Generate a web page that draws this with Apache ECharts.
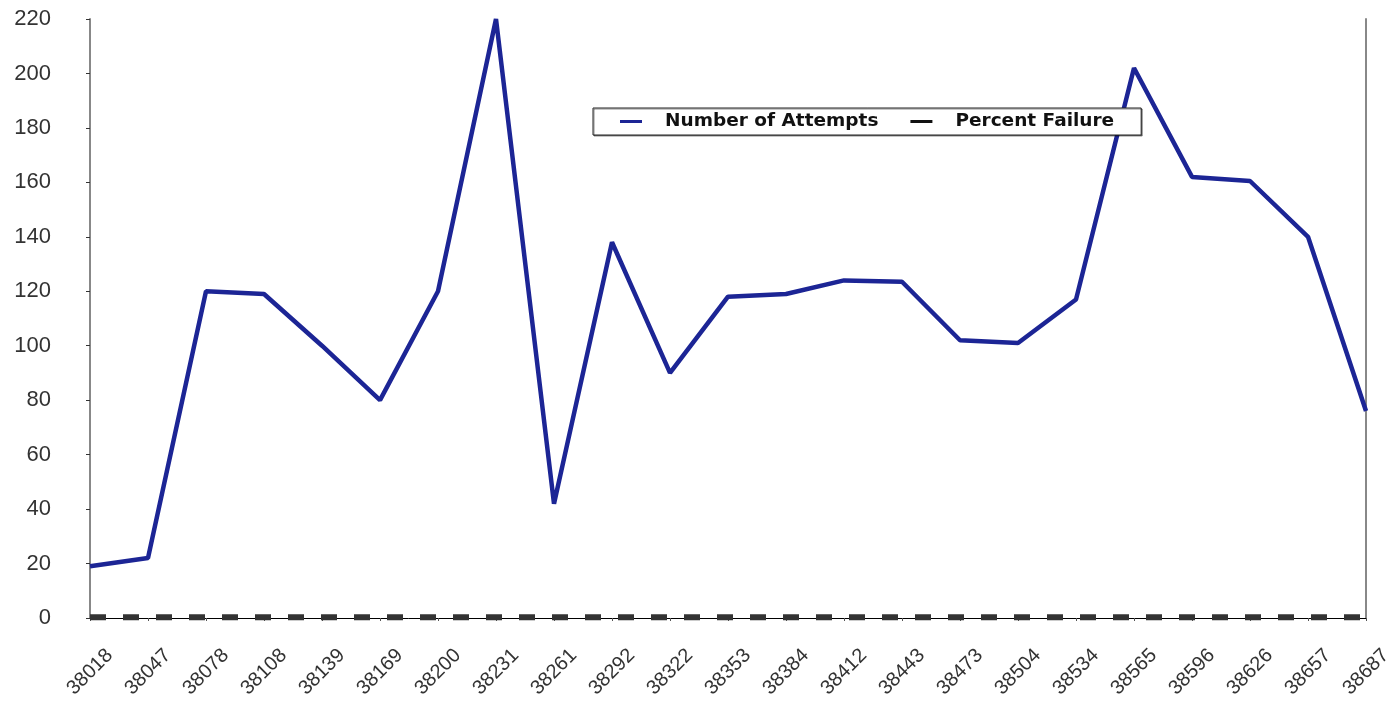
<!DOCTYPE html>
<html><head><meta charset="utf-8">
<script src="https://cdn.jsdelivr.net/npm/echarts@6/dist/echarts.min.js"></script>
<style>html,body{margin:0;padding:0;background:#fff}#c{width:1388px;height:702px}</style>
</head><body><div id="c"></div>
<script>
const categories = ['38018','38047','38078','38108','38139','38169','38200','38231','38261','38292','38322','38353','38384','38412','38443','38473','38504','38534','38565','38596','38626','38657','38687'];
const attempts = [19,22,120,119,100,80,120,220,42,138,90,118,119,124,123.5,102,101,117,202,162,160.5,140,76];
const percentFailure = [0.3,0.3,0.3,0.3,0.3,0.3,0.3,0.3,0.3,0.3,0.3,0.3,0.3,0.3,0.3,0.3,0.3,0.3,0.3,0.3,0.3,0.3,0.3];
const yTicks = {min:0, max:220, interval:20};

const chart = echarts.init(document.getElementById('c'), null, {renderer:'canvas'});
chart.setOption({
  animation:false,
  backgroundColor:'#fff',
  grid:{left:90, right:22, top:19, bottom:84, containLabel:false, outerBoundsMode:'none'},
  legend:{
    left:593, top:108,
    data:['Number of Attempts','Percent Failure'],
    icon:'rect', itemWidth:22, itemHeight:3, itemGap:32,
    padding:[4,27,4,27],
    borderColor:'#222', borderWidth:1, backgroundColor:'#fff',
    shadowColor:'rgba(0,0,0,0.45)', shadowOffsetX:1, shadowOffsetY:1,
    textStyle:{fontFamily:'DejaVu Sans', fontWeight:'bold', fontSize:18.5, lineHeight:19, color:'#111', padding:[0,0,0,18]}
  },
  xAxis:{
    type:'category', data:categories, boundaryGap:false,
    axisLine:{show:true, lineStyle:{color:'#000', width:1}},
    axisTick:{show:true, length:3, lineStyle:{color:'#555'}},
    axisLabel:{rotate:45, interval:0, margin:54, align:'center', verticalAlign:'middle', fontFamily:'Liberation Sans, Arial', fontSize:20, color:'#333'},
    splitLine:{show:false}
  },
  yAxis:[{
    type:'value', min:yTicks.min, max:yTicks.max, interval:yTicks.interval,
    axisLine:{show:true, lineStyle:{color:'#888', width:2}},
    axisTick:{show:true, length:4, lineStyle:{color:'#333'}},
    axisLabel:{margin:39, fontFamily:'Liberation Sans, Arial', fontSize:22, color:'#333'},
    splitLine:{show:false}
  },{
    type:'value', position:'right', min:yTicks.min, max:yTicks.max, interval:yTicks.interval,
    axisLine:{show:true, lineStyle:{color:'#888', width:2}},
    axisTick:{show:false}, axisLabel:{show:false}, splitLine:{show:false}
  }],
  series:[{
    name:'Number of Attempts', type:'line', data:attempts,
    symbol:'none', color:'#1C2595',
    lineStyle:{color:'#1C2595', width:4.5}, z:3
  },{
    name:'Percent Failure', type:'line', data:percentFailure,
    symbol:'none', color:'#111',
    lineStyle:{color:'#333', width:6, type:[16,17]}, z:2
  }]
});
</script></body></html>
